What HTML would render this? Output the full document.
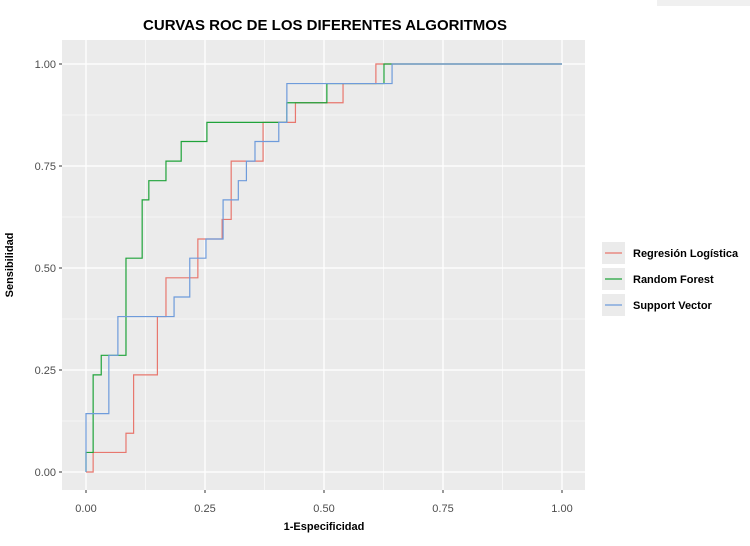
<!DOCTYPE html>
<html><head><meta charset="utf-8"><style>
body{margin:0;background:#fff;width:750px;height:541px;overflow:hidden;font-family:"Liberation Sans",sans-serif}
</style></head><body>
<svg width="750" height="541" id="chart">
<rect x="657" y="0" width="93" height="6" fill="#f0f0f0"/>
<text x="325" y="30" text-anchor="middle" font-size="15" font-weight="bold" fill="#000">CURVAS ROC DE LOS DIFERENTES ALGORITMOS</text>
<rect x="62" y="40" width="523" height="450" fill="#EBEBEB"/>
<g id="grid"></g><g id="axes"></g><g id="series"></g>
<text x="324" y="530" text-anchor="middle" font-size="11" font-weight="bold">1-Especificidad</text>
<text transform="translate(13,265) rotate(-90)" text-anchor="middle" font-size="11" font-weight="bold">Sensibilidad</text>
<g id="legend"></g>
</svg>
<script>
const xTicks=[0,0.25,0.5,0.75,1];
const yTicks=[0,0.25,0.5,0.75,1];
const tickLabels=["0.00","0.25","0.50","0.75","1.00"];
const seriesNames=["Regresión Logística","Random Forest","Support Vector"];
const lrX=[0,0.015,0.015,0.084,0.084,0.1,0.1,0.15,0.15,0.168,0.168,0.235,0.235,0.252,0.286,0.286,0.305,0.305,0.372,0.372,0.44,0.44,0.54,0.54,0.609,0.609,1];
const lrY=[0,0,0.048,0.048,0.095,0.095,0.238,0.238,0.381,0.381,0.476,0.476,0.571,0.571,0.571,0.619,0.619,0.762,0.762,0.857,0.857,0.905,0.905,0.952,0.952,1,1];
const rfX=[0,0,0.015,0.015,0.032,0.032,0.084,0.084,0.118,0.118,0.132,0.132,0.168,0.168,0.2,0.2,0.254,0.254,0.422,0.422,0.506,0.506,0.626,0.626,1];
const rfY=[0,0.048,0.048,0.238,0.238,0.286,0.286,0.524,0.524,0.667,0.667,0.714,0.714,0.762,0.762,0.81,0.81,0.857,0.857,0.905,0.905,0.952,0.952,1,1];
const svX=[0,0,0.048,0.048,0.067,0.067,0.185,0.185,0.218,0.218,0.252,0.252,0.288,0.288,0.32,0.32,0.337,0.337,0.355,0.355,0.405,0.405,0.422,0.422,0.643,0.643,1];
const svY=[0,0.143,0.143,0.286,0.286,0.381,0.381,0.429,0.429,0.524,0.524,0.571,0.571,0.667,0.667,0.714,0.714,0.762,0.762,0.81,0.81,0.857,0.857,0.952,0.952,1,1];
const colors=["#E8776E","#1FA33A","#6E9BDB"];
const NS="http://www.w3.org/2000/svg";
const sx=v=>86+v*476, sy=v=>472-v*408;
function mk(tag,attrs,parent){const e=document.createElementNS(NS,tag);for(const k in attrs)e.setAttribute(k,attrs[k]);parent.appendChild(e);return e;}
const grid=document.getElementById('grid'),axes=document.getElementById('axes'),ser=document.getElementById('series'),leg=document.getElementById('legend');
for(let i=0;i<xTicks.length;i++){
 if(i<xTicks.length-1){const m=(xTicks[i]+xTicks[i+1])/2;
  const a=mk('line',{x1:sx(m),x2:sx(m),y1:40,y2:490,stroke:'#fff','stroke-width':0.6},grid);
  
  const m2=(yTicks[i]+yTicks[i+1])/2;
  const b=mk('line',{x1:62,x2:585,y1:sy(m2),y2:sy(m2),stroke:'#fff','stroke-width':0.6},grid);
  }
 const g1=mk('line',{x1:sx(xTicks[i]),x2:sx(xTicks[i]),y1:40,y2:490,stroke:'#fff','stroke-width':1.3},grid);
 
 const g2=mk('line',{x1:62,x2:585,y1:sy(yTicks[i]),y2:sy(yTicks[i]),stroke:'#fff','stroke-width':1.3},grid);
 
 const t1=mk('line',{x1:sx(xTicks[i]),x2:sx(xTicks[i]),y1:490,y2:493,stroke:'#333'},axes);
 
 const l1=mk('text',{x:sx(xTicks[i]),y:512,'text-anchor':'middle','font-size':11,fill:'#4d4d4d'},axes);l1.textContent=tickLabels[i];
 
 const t2=mk('line',{x1:59,x2:62,y1:sy(yTicks[i]),y2:sy(yTicks[i]),stroke:'#333'},axes);
 
 const l2=mk('text',{x:56,y:sy(yTicks[i])+4,'text-anchor':'end','font-size':11,fill:'#4d4d4d'},axes);l2.textContent=tickLabels[i];
 
}
const data=[[lrX,lrY],[rfX,rfY],[svX,svY]];
const snames=['logistic-regression-curve','random-forest-curve','support-vector-curve'];
data.forEach((d,k)=>{
 const pts=d[0].map((x,i)=>sx(x)+','+sy(d[1][i])).join(' ');
 const p=mk('polyline',{points:pts,fill:'none',stroke:colors[k],'stroke-width':1.2},ser);
 
 const ly=253+k*26;
 const bx=mk('rect',{x:602,y:ly-11,width:23,height:22,fill:'#EBEBEB'},leg);
 
 const ln=mk('line',{x1:605,x2:622,y1:ly,y2:ly,stroke:colors[k],'stroke-width':1.2},leg);
 
 const tx=mk('text',{x:633,y:ly+4,'font-size':11,'font-weight':'bold'},leg);tx.textContent=seriesNames[k];
 
});
</script>
</body></html>
